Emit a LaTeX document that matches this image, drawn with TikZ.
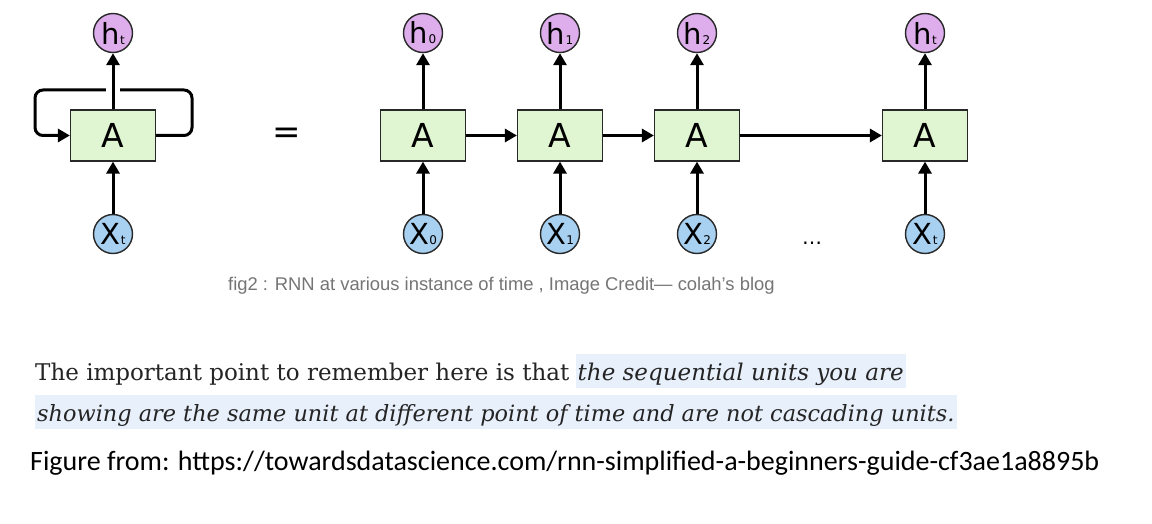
\documentclass[tikz,border=0pt]{standalone}
\usepackage{fontspec}
\setmainfont{DejaVu Serif}
\newfontfamily\djfont{DejaVu Sans}
\newfontfamily\capfont{Liberation Sans}
\newfontfamily\calfont{Carlito}
\usetikzlibrary{arrows.meta}
\definecolor{cellfill}{RGB}{224,245,210}
\definecolor{hfill}{RGB}{222,174,236}
\definecolor{xfill}{RGB}{168,208,240}
\definecolor{edge}{RGB}{40,40,40}
\definecolor{capgray}{RGB}{117,117,117}
\definecolor{paratext}{RGB}{36,36,36}
\definecolor{hilite}{RGB}{232,240,252}
\newcommand{\lbl}[2]{{\djfont\fontsize{29}{29}\selectfont #1\kern0.5pt{\fontsize{12}{12}\selectfont #2}}}
\begin{document}
\begin{tikzpicture}[x=1pt,y=-1pt,
  cell/.style={rectangle,draw=edge,line width=1.2pt,fill=cellfill,minimum width=85pt,minimum height=51pt,inner sep=0pt,font=\djfont\fontsize{33}{33}\selectfont},
  hnode/.style={circle,draw=edge,line width=1.4pt,fill=hfill,minimum size=39pt,inner sep=0pt},
  xnode/.style={circle,draw=edge,line width=1.4pt,fill=xfill,minimum size=39pt,inner sep=0pt},
  arr/.style={line width=3pt,-{Triangle[length=12pt,width=13pt]}},
  para/.style={anchor=base west,inner sep=0pt,text=paratext,font=\fontsize{23}{23}\selectfont},
  hl/.style={anchor=base west,inner xsep=2pt,inner ysep=2pt,text height=24pt,text depth=6pt,fill=hilite,text=paratext,font=\itshape\fontsize{23}{23}\selectfont}
]
\useasboundingbox[fill=white] (0,0) rectangle (1152,524);

% folded RNN
\node[cell] (A) at (113,135.5) {A};
\node[hnode] (hL) at (113,33) {\lbl{h}{t}};
\node[xnode] (xL) at (113,234) {\lbl{X}{t}};
\coordinate (lr) at (192,135.5);
\coordinate (lt) at (192,90);
\coordinate (ltl) at (35,90);
\coordinate (ll) at (35,135.5);
\draw[line width=3pt,rounded corners=8pt,-{Triangle[length=12pt,width=13pt]}] (A.east) -- (lr) -- (lt) -- (ltl) -- (ll) -- (A.west);
\draw[white,line width=14pt] (113,86) -- (113,94);
\draw[arr] (A.north) -- (hL.south);
\draw[arr] (xL.north) -- (A.south);

\node[font=\djfont\fontsize{34}{34}\selectfont] (eq) at (287,136) {=};

% unrolled RNN
\node[cell] (A0) at (423,135.5) {A};
\node[cell] (A1) at (560,135.5) {A};
\node[cell] (A2) at (697,135.5) {A};
\node[cell] (A3) at (925,135.5) {A};
\node[hnode] (h0) at (423,33) {\lbl{h}{0}};
\node[hnode] (h1) at (560,33) {\lbl{h}{1}};
\node[hnode] (h2) at (697,33) {\lbl{h}{2}};
\node[hnode] (h3) at (925,33) {\lbl{h}{t}};
\node[xnode] (x0) at (423,234) {\lbl{X}{0}};
\node[xnode] (x1) at (560,234) {\lbl{X}{1}};
\node[xnode] (x2) at (697,234) {\lbl{X}{2}};
\node[xnode] (x3) at (925,234) {\lbl{X}{t}};
\foreach \i in {0,1,2,3}{
  \draw[arr] (A\i.north) -- (h\i.south);
  \draw[arr] (x\i.north) -- (A\i.south);
}
\draw[arr] (A0.east) -- (A1.west);
\draw[arr] (A1.east) -- (A2.west);
\draw[arr] (A2.east) -- (A3.west);
\node[font=\djfont\fontsize{20}{20}\selectfont] (dots) at (812,243) {…};

% caption
\node[anchor=base west,inner sep=0pt,text=capgray,font=\capfont\fontsize{18.4}{18.4}\selectfont] (cap) at (228,290) {fig2 : RNN at various instance of time , Image Credit— colah’s blog};

% paragraph
\node[para] (p1) at (35,380) {The important point to remember here is that};
\node[hl,xshift=6pt] (p1i) at (p1.base east) {the sequential units you are};
\node[hl,font=\itshape\fontsize{22.4}{22.4}\selectfont] (p2) at (35,421) {showing are the same unit at different point of time and are not cascading units.};

% source
\node[anchor=base west,inner sep=0pt,text=black,font=\calfont\fontsize{28}{28}\selectfont] (src) at (30,470) {Figure from: https://towardsdatascience.com/rnn-simplified-a-beginners-guide-cf3ae1a8895b};
\end{tikzpicture}
\end{document}
